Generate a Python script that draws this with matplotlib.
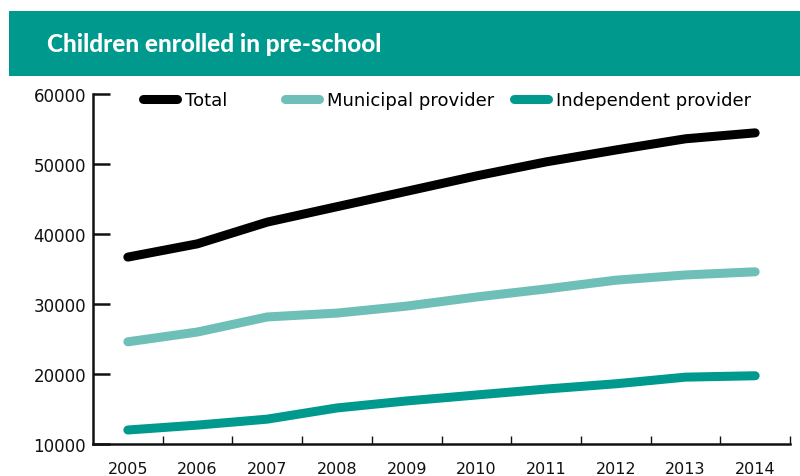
import matplotlib
matplotlib.use("Agg")
import matplotlib.pyplot as plt
from matplotlib.patches import Rectangle
from matplotlib.legend import Legend

plt.rcParams['font.family'] = ['DejaVu Sans']

years = ['2005', '2006', '2007', '2008', '2009', '2010', '2011', '2012', '2013', '2014']
total = [36700, 38600, 41700, 43900, 46100, 48300, 50300, 52000, 53600, 54450]
municipal = [24600, 26000, 28150, 28700, 29700, 31000, 32150, 33400, 34150, 34600]
independent = [12000, 12700, 13550, 15150, 16150, 17000, 17850, 18600, 19550, 19750]
series_names = ['Total', 'Municipal provider', 'Independent provider']
yticks = [10000, 20000, 30000, 40000, 50000, 60000]
title = 'Children enrolled in pre-school'

c_total = '#000000'
c_mun = '#6dbfb8'
c_ind = '#00998d'

fig = plt.figure(figsize=(8, 4.77), dpi=100)

# banner
fig.patches.append(Rectangle((9/800, 1 - 77/477), 1 - 9/800, 65/477,
                             transform=fig.transFigure, facecolor=c_ind,
                             edgecolor='none', zorder=0))
fig.text(47/800, 1 - 45/477, title, color='white', fontsize=17.5,
         fontweight='black', family=['Lato', 'DejaVu Sans'],
         va='center', ha='left')

ax = fig.add_axes([93/800, 32/477, 697/800, 350/477])
x = list(range(len(years)))
lines = []
for vals, col in zip([total, municipal, independent], [c_total, c_mun, c_ind]):
    ln, = ax.plot(x, vals, color=col, lw=6.5, solid_capstyle='round',
                  solid_joinstyle='round')
    lines.append(ln)

ax.set_xlim(-0.5, len(years) - 0.5)
ax.set_ylim(10000, 60000)
for s in ['top', 'right']:
    ax.spines[s].set_visible(False)
for s in ['left', 'bottom']:
    ax.spines[s].set_linewidth(1.8)
    ax.spines[s].set_color('#111111')

ax.set_yticks(yticks)
ax.set_yticklabels([str(v) for v in yticks])
ax.tick_params(axis='y', direction='in', length=12, width=1.8, pad=5,
               labelsize=12, colors='#111111')

ax.set_xticks([i + 0.5 for i in x])
ax.set_xticklabels([])
ax.set_xticks(x, minor=True)
ax.set_xticklabels(years, minor=True)
ax.tick_params(axis='x', which='major', direction='in', length=6, width=1, colors='#111111')
ax.tick_params(axis='x', which='minor', length=0, pad=12, labelsize=11.5, colors='#111111')

legend_x = [(143 - 93) / 697, (285 - 93) / 697, (514 - 93) / 697]
ly = (445 - 101) / 350
for ln, name, lx in zip(lines, series_names, legend_x):
    leg = Legend(ax, [ln], [name], loc='center left', bbox_to_anchor=(lx, ly),
                 frameon=False, borderpad=0, borderaxespad=0,
                 handlelength=1.9, handletextpad=0.45, fontsize=13)
    ax.add_artist(leg)

fig.savefig('out.png', dpi=100)
